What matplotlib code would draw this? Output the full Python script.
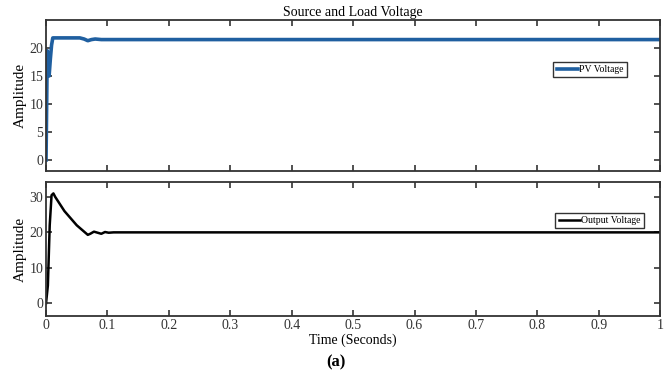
import matplotlib
matplotlib.use("Agg")
import matplotlib.pyplot as plt

plt.rcParams['font.family'] = ['Liberation Serif', 'DejaVu Serif']

# PV (source) voltage samples
t_pv = [0, 0.002, 0.004, 0.005, 0.007, 0.009, 0.011, 0.03, 0.055, 0.062, 0.068, 0.074, 0.08, 0.09, 1.0]
v_pv = [0, 19.5, 16.5, 15.0, 18.0, 20.5, 21.8, 21.8, 21.8, 21.6, 21.3, 21.5, 21.6, 21.5, 21.5]

# output (load) voltage samples
t_out = [0, 0.003, 0.006, 0.009, 0.012, 0.015, 0.03, 0.05, 0.068, 0.072, 0.078, 0.084, 0.09, 0.096, 0.102, 0.11, 1.0]
v_out = [0, 5.0, 22.0, 30.5, 31.0, 30.0, 26.0, 22.0, 19.3, 19.6, 20.2, 19.9, 19.6, 20.1, 19.9, 20.0, 20.0]

xticks = [0, 0.1, 0.2, 0.3, 0.4, 0.5, 0.6, 0.7, 0.8, 0.9, 1]
xtick_labels = ['0', '0.1', '0.2', '0.3', '0.4', '0.5', '0.6', '0.7', '0.8', '0.9', '1']

fig = plt.figure(figsize=(6.72, 3.77), dpi=100)
ax1 = fig.add_axes([0.0685, 0.546, 0.914, 0.401])
ax2 = fig.add_axes([0.0685, 0.162, 0.914, 0.355])

ax1.plot(t_pv, v_pv, color='#1f5fa0', lw=2.6, label='PV Voltage')
ax2.plot(t_out, v_out, color='black', lw=1.8, label='Output Voltage')

for ax in (ax1, ax2):
    ax.set_xlim(0, 1)
    ax.set_xticks(xticks)
    ax.tick_params(direction='in', top=True, right=True, length=4, width=1.2,
                   labelsize=10, colors='#333333', pad=2)
    for s in ax.spines.values():
        s.set_linewidth(1.3)
        s.set_color('#333333')
    ax.set_ylabel('Amplitude', fontsize=11, labelpad=2)

ax1.set_ylim(-2, 25)
ax1.set_yticks([0, 5, 10, 15, 20])
ax1.set_xticklabels([])
ax1.set_title('Source and Load Voltage', fontsize=10, pad=3)

ax2.set_ylim(-3.6, 34.2)
ax2.set_yticks([0, 10, 20, 30])
ax2.set_xticklabels(xtick_labels)
ax2.set_xlabel('Time (Seconds)', fontsize=10, labelpad=1)

leg_kw = dict(fontsize=7, frameon=True, fancybox=False, handlelength=2.2,
              handletextpad=0.1, borderpad=0.35, borderaxespad=0)
l1 = ax1.legend(loc='center left', bbox_to_anchor=(0.826, 0.672), **leg_kw)
l2 = ax2.legend(loc='center left', bbox_to_anchor=(0.829, 0.713), **leg_kw)
for lg in (l1, l2):
    lg.get_frame().set_edgecolor('black')
    lg.get_frame().set_linewidth(1.0)

fig.text(0.5, 0.04, '(a)', ha='center', va='center', fontsize=12, fontweight='bold')

fig.savefig('out.png', dpi=100)
